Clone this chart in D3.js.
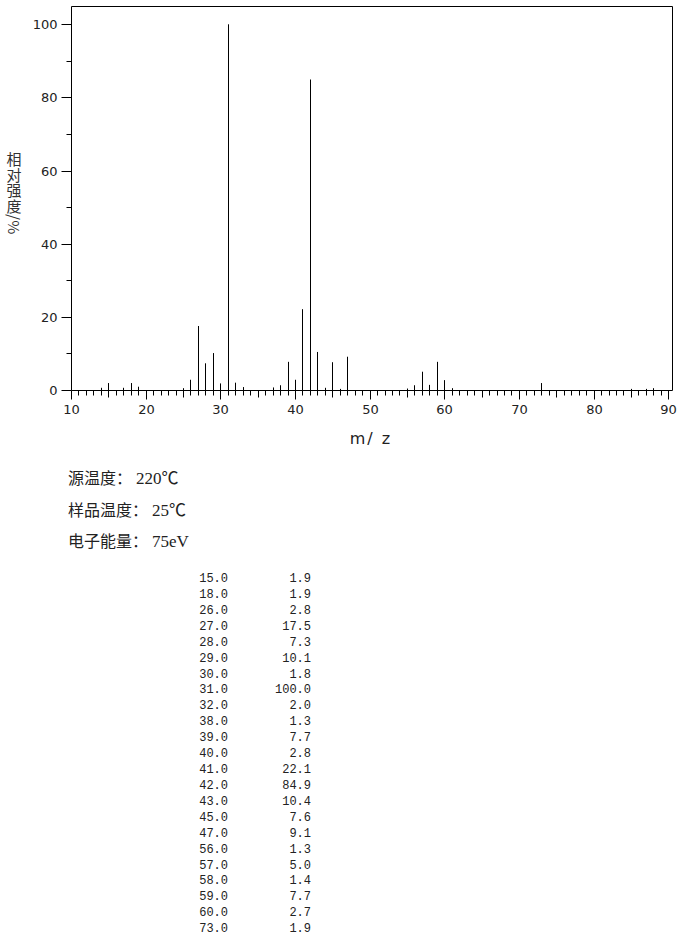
<!DOCTYPE html>
<html>
<head>
<meta charset="utf-8">
<script src="https://cdn.jsdelivr.net/npm/d3@7"></script>
<style>
  body { margin: 0; background: #fff; }
  svg { display: block; }
</style>
</head>
<body>
<svg id="chart" width="680" height="950"></svg>
<script>
// Mass spectrum peaks: m/z and relative intensity (%)
const peakMz = [14, 15, 17, 18, 19, 25, 26, 27, 28, 29, 30, 31, 32, 33, 37, 38, 39, 40, 41, 42, 43, 44, 45, 46, 47, 55, 56, 57, 58, 59, 60, 61, 73, 85, 87, 88];
const peakIntensity = [0.6, 1.9, 0.6, 1.9, 0.9, 0.5, 2.8, 17.5, 7.3, 10.1, 1.8, 100.0, 2.0, 0.8, 0.7, 1.3, 7.7, 2.8, 22.1, 84.9, 10.4, 0.6, 7.6, 0.3, 9.1, 0.4, 1.3, 5.0, 1.4, 7.7, 2.7, 0.5, 1.9, 0.3, 0.3, 0.5];

// Peaks at or above this level are listed in the table
const listThreshold = 1.0;

const xTickValues = [10, 20, 30, 40, 50, 60, 70, 80, 90];
const yTickValues = [0, 20, 40, 60, 80, 100];

const xTitleParts = ["m", "/", "z"];
const yTitle = "相对强度/%";

const conditionNames = ["源温度：", "样品温度：", "电子能量："];
const conditionValues = ["220℃", "25℃", "75eV"];

const svg = d3.select("#chart");

const x = d3.scaleLinear().domain([10, 90.5]).range([71, 672]);
const y = d3.scaleLinear().domain([0, 105]).range([390, 6]);

const crisp = v => Math.round(v) + 0.5;
const axisFont = "'DejaVu Sans', Verdana, sans-serif";
const textColor = "#222";

// Plot frame (top and right edges)
svg.append("path")
  .attr("d", `M${crisp(x(10))},${crisp(y(105))} H${crisp(x(90.5))} V${crisp(y(0))}`)
  .attr("fill", "none").attr("stroke", "#000").attr("stroke-width", 1);

// X axis: a tick at every integer m/z, longer at multiples of 5 and 10
const xAxis = d3.axisBottom(x)
  .tickValues(d3.range(10, 91, 1))
  .tickSize(0)
  .tickSizeOuter(0)
  .tickFormat(d => xTickValues.includes(d) ? d : "");
const gx = svg.append("g").attr("transform", `translate(0,${crisp(y(0))})`).call(xAxis);
gx.select(".domain").attr("stroke", "#000").attr("d", `M${crisp(x(10))},0H${crisp(x(90.5))}`);
gx.selectAll(".tick").attr("transform", d => `translate(${crisp(x(d))},0)`);
gx.selectAll(".tick line")
  .attr("stroke", "#000")
  .attr("y2", d => d % 10 === 0 ? 9 : (d % 5 === 0 ? 7 : 5));
gx.selectAll(".tick text")
  .attr("y", 14)
  .attr("fill", textColor)
  .style("font-family", axisFont)
  .style("font-size", "13px");

// Y axis: labelled every 20 %, minor ticks between
const yAxis = d3.axisLeft(y)
  .tickValues(d3.range(0, 101, 10))
  .tickSize(0)
  .tickSizeOuter(0)
  .tickFormat(d => yTickValues.includes(d) ? d : "");
const gy = svg.append("g").attr("transform", `translate(${crisp(x(10))},0)`).call(yAxis);
gy.select(".domain").attr("stroke", "#000").attr("d", `M0,${crisp(y(0))}V${crisp(y(105))}`);
gy.selectAll(".tick").attr("transform", d => `translate(0,${crisp(y(d))})`);
gy.selectAll(".tick line")
  .attr("stroke", "#000")
  .attr("x2", d => d % 20 === 0 ? -10 : -5);
gy.selectAll(".tick text")
  .attr("x", -14)
  .attr("fill", textColor)
  .style("font-family", axisFont)
  .style("font-size", "13px");

// Peak sticks
const peaks = peakMz.map((mz, i) => ({ mz, value: peakIntensity[i] }));
svg.append("g").selectAll("line")
  .data(peaks)
  .join("line")
  .attr("x1", d => crisp(x(d.mz)))
  .attr("x2", d => crisp(x(d.mz)))
  .attr("y1", y(0))
  .attr("y2", d => y(d.value))
  .attr("stroke", "#000")
  .attr("stroke-width", 1);

// Axis titles
const xTitle = svg.append("text")
  .attr("y", 444)
  .attr("fill", textColor)
  .style("font-family", axisFont)
  .style("font-size", "16px")
  .attr("text-anchor", "middle");
xTitle.selectAll("tspan")
  .data(xTitleParts)
  .join("tspan")
  .attr("x", (d, i) => [357.5, 370, 386][i])
  .text(d => d);

svg.append("text")
  .attr("x", 14)
  .attr("y", 152)
  .attr("fill", "#333")
  .style("font-family", "'Noto Sans CJK SC', sans-serif")
  .style("font-size", "15px")
  .style("writing-mode", "vertical-rl")
  .style("letter-spacing", "0.5px")
  .text(yTitle);

// Acquisition conditions
const cond = svg.append("g")
  .attr("fill", textColor);
cond.selectAll("text")
  .data(conditionNames)
  .join("text")
  .attr("x", 68)
  .attr("y", (d, i) => 484 + i * 31.5)
  .each(function (d, i) {
    const t = d3.select(this);
    t.append("tspan")
      .style("font-family", "'Noto Sans CJK SC', sans-serif")
      .style("font-size", "16px")
      .text(d);
    t.append("tspan")
      .attr("dx", 4)
      .style("font-family", "'Liberation Serif', 'Noto Sans CJK SC', serif")
      .style("font-size", "17px")
      .text(conditionValues[i]);
  });

// Peak list
const listed = peaks.filter(d => d.value >= listThreshold);
const rows = svg.append("g")
  .style("font-family", "'Liberation Mono', 'DejaVu Sans Mono', monospace")
  .style("font-size", "12px")
  .attr("fill", textColor)
  .selectAll("g")
  .data(listed)
  .join("g")
  .attr("transform", (d, i) => `translate(0,${582 + i * 15.92})`);
rows.append("text").attr("x", 228).attr("text-anchor", "end").text(d => d.mz.toFixed(1));
rows.append("text").attr("x", 311).attr("text-anchor", "end").text(d => d.value.toFixed(1));
</script>
</body>
</html>
